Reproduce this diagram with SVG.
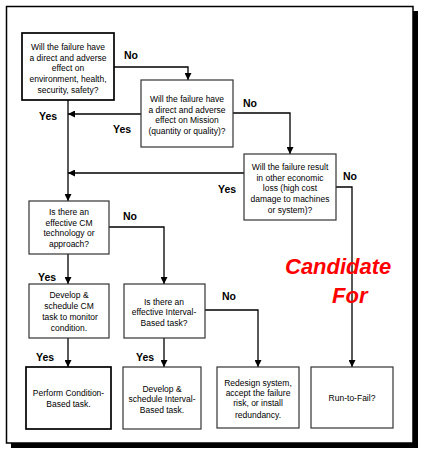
<svg xmlns="http://www.w3.org/2000/svg" width="425" height="458" viewBox="0 0 425 458">
<style>
text{font-family:"Liberation Sans",Arial,sans-serif}
.t{font-size:8.5px;fill:#000;text-anchor:middle}
.l{font-size:10.5px;font-weight:bold;fill:#000}
.b{fill:#fff;stroke:#333;stroke-width:1.2}
.k{fill:#fff;stroke:#000;stroke-width:1.7}
.c{fill:none;stroke:#000;stroke-width:1.3;marker-end:url(#a)}
.cand{font-size:22px;font-weight:bold;font-style:italic;fill:#ff0000}
</style>
<defs>
<marker id="a" viewBox="0 0 8 8" refX="8" refY="4" markerWidth="7" markerHeight="7" orient="auto" markerUnits="userSpaceOnUse"><path d="M0,0 L8,4 L0,8 z" fill="#000"/></marker>
</defs>
<rect x="0" y="0" width="425" height="458" fill="#fff"/>
<rect x="11" y="11" width="407" height="437" fill="#000"/>
<rect x="6.5" y="6.5" width="406.5" height="436.5" fill="#fff" stroke="#000" stroke-width="1.5"/>

<g id="connectors">
<path class="c" d="M114,67 H188 V80"/>
<path class="c" d="M141,114 H68"/>
<path class="c" d="M68,100 V201"/>
<path class="c" d="M233,113 H290 V154"/>
<path class="c" d="M244,173 H68"/>
<path class="c" d="M336,187 H352 V367"/>
<path class="c" d="M109,227 H164 V284"/>
<path class="c" d="M68,254 V284"/>
<path class="c" d="M68,338 V367"/>
<path class="c" d="M164,338 V367"/>
<path class="c" d="M205,310 H258 V367"/>
</g>

<g id="labels">
<text class="l" x="124" y="59">No</text>
<text class="l" x="39" y="120">Yes</text>
<text class="l" x="113" y="133">Yes</text>
<text class="l" x="243" y="107">No</text>
<text class="l" x="218" y="193">Yes</text>
<text class="l" x="343" y="180">No</text>
<text class="l" x="123" y="220">No</text>
<text class="l" x="38" y="281">Yes</text>
<text class="l" x="36" y="361">Yes</text>
<text class="l" x="136" y="361">Yes</text>
<text class="l" x="222" y="300">No</text>
</g>

<g id="q1">
<rect class="k" x="22" y="33" width="92" height="67"/>
<text class="t" x="68" y="50">Will the failure have</text>
<text class="t" x="68" y="60.5">a direct and adverse</text>
<text class="t" x="68" y="71">effect on</text>
<text class="t" x="68" y="82">environment, health,</text>
<text class="t" x="68" y="93">security, safety?</text>
</g>
<g id="q2">
<rect class="b" x="141" y="80" width="92" height="67"/>
<text class="t" x="187" y="102">Will the failure have</text>
<text class="t" x="187" y="112.5">a direct and adverse</text>
<text class="t" x="187" y="123">effect on Mission</text>
<text class="t" x="187" y="133.5">(quantity or quality)?</text>
</g>
<g id="q3">
<rect class="b" x="244" y="154" width="92" height="66"/>
<text class="t" x="290" y="170">Will the failure result</text>
<text class="t" x="290" y="181">in other economic</text>
<text class="t" x="290" y="191">loss (high cost</text>
<text class="t" x="290" y="202">damage to machines</text>
<text class="t" x="290" y="213">or system)?</text>
</g>
<g id="q4">
<rect class="b" x="29" y="201" width="80" height="53"/>
<text class="t" x="69" y="215">Is there an</text>
<text class="t" x="69" y="226">effective CM</text>
<text class="t" x="69" y="236">technology or</text>
<text class="t" x="69" y="247">approach?</text>
</g>
<g id="a1">
<rect class="b" x="29" y="284" width="80" height="54"/>
<text class="t" x="69" y="298">Develop &amp;</text>
<text class="t" x="69" y="309">schedule CM</text>
<text class="t" x="70" y="320">task to monitor</text>
<text class="t" x="69" y="331">condition.</text>
</g>
<g id="q5">
<rect class="b" x="124" y="284" width="81" height="54"/>
<text class="t" x="164" y="305">Is there an</text>
<text class="t" x="164" y="315">effective Interval-</text>
<text class="t" x="164" y="326">Based task?</text>
</g>
<g id="r1">
<rect class="k" x="26" y="367" width="85" height="62"/>
<text class="t" x="68.5" y="396">Perform Condition-</text>
<text class="t" x="68.5" y="407">Based task.</text>
</g>
<g id="r2">
<rect class="b" x="123" y="367" width="78" height="62"/>
<text class="t" x="162" y="392">Develop &amp;</text>
<text class="t" x="162" y="402">schedule Interval-</text>
<text class="t" x="162" y="413">Based task.</text>
</g>
<g id="r3">
<rect class="b" x="217" y="367" width="82" height="61"/>
<text class="t" x="258" y="386">Redesign system,</text>
<text class="t" x="258" y="396">accept the failure</text>
<text class="t" x="258" y="406">risk, or install</text>
<text class="t" x="258" y="418">redundancy.</text>
</g>
<g id="r4">
<rect class="b" x="311" y="367" width="82" height="61"/>
<text class="t" x="352" y="401">Run-to-Fail?</text>
</g>
<g id="candidate">
<text class="cand" x="285" y="274">Candidate</text>
<text class="cand" x="332" y="303">For</text>
</g>
</svg>
